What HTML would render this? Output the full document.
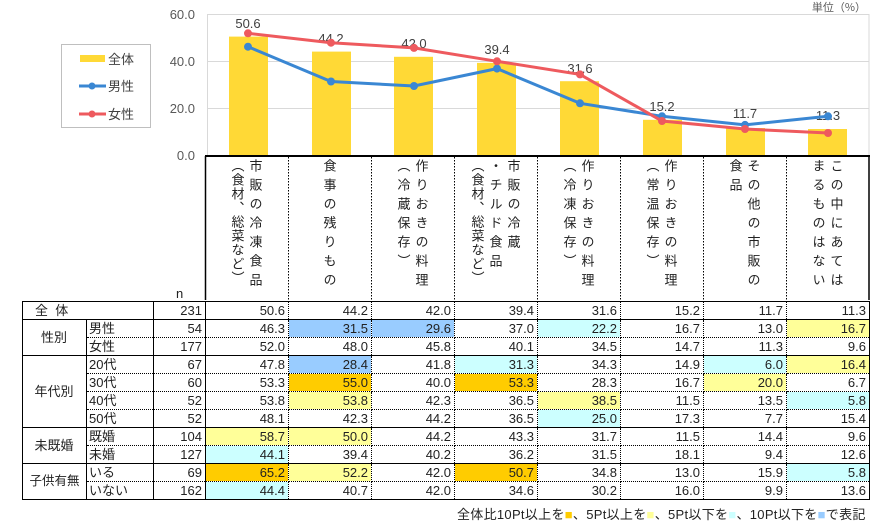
<!DOCTYPE html>
<html><head><meta charset="utf-8"><style>
body{margin:0;width:890px;height:525px;background:#fff;font-family:"Liberation Sans","Noto Sans CJK JP",sans-serif;color:#222;position:relative;overflow:hidden}
.hdr{position:absolute;top:156px;height:145px;width:83px;display:flex;justify-content:center;box-sizing:border-box}
.hdr div{writing-mode:vertical-rl;font-size:13px;line-height:18px;letter-spacing:6px;padding-top:3px;font-family:"Noto Sans CJK JP",sans-serif;white-space:nowrap}
.hdr span{letter-spacing:1px}
table{position:absolute;left:22px;top:301px;border-collapse:collapse;font-size:13px;table-layout:fixed}
td{height:17px;padding:0 3px 0 2px;border:1px dotted #000;text-align:right;line-height:17px;white-space:nowrap;overflow:hidden}
td.g{text-align:center;border:1px solid #000}
td.l{text-align:left;border-left:1px dotted #000;border-right:1px solid #000}
td.n{border-right:1px solid #000}
tr.s td{border-top:1.5px solid #000}
table{border:1.5px solid #000}
.o{background:#FFCC00}.y{background:#FFFF99}.c{background:#CCFFFF}.b{background:#99CCFF}
</style></head><body>
<svg width="890" height="300" style="position:absolute;left:0;top:0" font-family="Liberation Sans, sans-serif">
<g stroke="#d9d9d9" stroke-width="1">
<line x1="207" y1="14.5" x2="869" y2="14.5"/><line x1="207" y1="61.5" x2="869" y2="61.5"/><line x1="207" y1="108.5" x2="869" y2="108.5"/>
<line x1="207.5" y1="14" x2="207.5" y2="156"/><line x1="869" y1="14" x2="869" y2="156"/>
</g>
<g font-size="13" fill="#595959" text-anchor="end">
<text x="195" y="19">60.0</text><text x="195" y="66">40.0</text><text x="195" y="113">20.0</text><text x="195" y="160">0.0</text>
</g>
<text x="866" y="11" font-size="11" fill="#595959" text-anchor="end" font-family="Noto Sans CJK JP, sans-serif">単位（%）</text>
<g fill="#FFD936">
<rect x="229" y="36.6" width="39" height="119"/>
<rect x="312" y="51.6" width="39" height="104"/>
<rect x="394" y="56.8" width="39" height="98.7"/>
<rect x="477" y="62.9" width="39" height="92.6"/>
<rect x="560" y="81.2" width="39" height="74.3"/>
<rect x="643" y="119.8" width="39" height="35.7"/>
<rect x="726" y="128" width="39" height="27.5"/>
<rect x="808" y="129" width="39" height="26.5"/>
</g>
<g font-size="13" fill="#404040" text-anchor="middle">
<text x="248" y="28">50.6</text><text x="331" y="43">44.2</text><text x="414" y="48">42.0</text><text x="497" y="54">39.4</text><text x="580" y="73">31.6</text><text x="662" y="111">15.2</text><text x="745" y="118">11.7</text><text x="828" y="120">11.3</text>
</g>
<polyline fill="none" stroke="#3A87D3" stroke-width="3" points="248,46.7 331,81.5 414,86 497,68.6 580,103.3 662,116.3 745,124.9 828,116.3"/>
<g fill="#3A87D3"><circle cx="248" cy="46.7" r="4"/><circle cx="331" cy="81.5" r="4"/><circle cx="414" cy="86" r="4"/><circle cx="497" cy="68.6" r="4"/><circle cx="580" cy="103.3" r="4"/><circle cx="662" cy="116.3" r="4"/><circle cx="745" cy="124.9" r="4"/><circle cx="828" cy="116.3" r="4"/></g>
<polyline fill="none" stroke="#EE5A5E" stroke-width="3" points="248,33.3 331,42.7 414,47.9 497,61.3 580,74.4 662,121 745,129 828,133"/>
<g fill="#EE5A5E"><circle cx="248" cy="33.3" r="4"/><circle cx="331" cy="42.7" r="4"/><circle cx="414" cy="47.9" r="4"/><circle cx="497" cy="61.3" r="4"/><circle cx="580" cy="74.4" r="4"/><circle cx="662" cy="121" r="4"/><circle cx="745" cy="129" r="4"/><circle cx="828" cy="133" r="4"/></g>
<rect x="61.5" y="44.5" width="89" height="83" fill="#fff" stroke="#bfbfbf"/>
<rect x="80" y="55" width="25" height="7" fill="#FFD936"/>
<line x1="79" y1="86" x2="106" y2="86" stroke="#3A87D3" stroke-width="3"/><circle cx="92" cy="86" r="3.5" fill="#3A87D3"/>
<line x1="79" y1="114" x2="106" y2="114" stroke="#EE5A5E" stroke-width="3"/><circle cx="92" cy="114" r="3.5" fill="#EE5A5E"/>
<g font-size="13" fill="#404040" font-family="Noto Sans CJK JP, sans-serif"><text x="108" y="64">全体</text><text x="108" y="91">男性</text><text x="108" y="119">女性</text></g>
<line x1="205" y1="156" x2="870" y2="156" stroke="#000" stroke-width="2"/>
<line x1="205.5" y1="156" x2="205.5" y2="300" stroke="#000" stroke-width="1.5"/>
<line x1="869" y1="156" x2="869" y2="300" stroke="#000" stroke-width="1.5"/>
<g stroke="#000" stroke-dasharray="1.5,1.5"><line x1="288.5" y1="157" x2="288.5" y2="300"/><line x1="371.5" y1="157" x2="371.5" y2="300"/><line x1="454.5" y1="157" x2="454.5" y2="300"/><line x1="537.5" y1="157" x2="537.5" y2="300"/><line x1="620.5" y1="157" x2="620.5" y2="300"/><line x1="703.5" y1="157" x2="703.5" y2="300"/><line x1="786.5" y1="157" x2="786.5" y2="300"/></g>
<text x="176" y="298" font-size="13" fill="#222">n</text>
</svg>
<div class="hdr" style="left:205px"><div>市販の冷凍食品<br><span>（食材、総菜など）</span></div></div>
<div class="hdr" style="left:288px"><div>食事の残りもの</div></div>
<div class="hdr" style="left:371px"><div>作りおきの料理<br>（冷蔵保存）</div></div>
<div class="hdr" style="left:454px"><div>市販の冷蔵<br>・チルド食品<br><span>（食材、総菜など）</span></div></div>
<div class="hdr" style="left:537px"><div>作りおきの料理<br>（冷凍保存）</div></div>
<div class="hdr" style="left:620px"><div>作りおきの料理<br>（常温保存）</div></div>
<div class="hdr" style="left:703px"><div>その他の市販の<br>食品</div></div>
<div class="hdr" style="left:786px"><div>この中にあては<br>まるものはない</div></div>
<table>
<colgroup><col style="width:64px"><col style="width:67px"><col style="width:52px"><col style="width:83px"><col style="width:83px"><col style="width:83px"><col style="width:83px"><col style="width:83px"><col style="width:83px"><col style="width:83px"><col style="width:83px"></colgroup>
<tr><td class="g" colspan="2" style="text-align:left;padding-left:12px">全&nbsp;&nbsp;体</td><td class="n">231</td><td>50.6</td><td>44.2</td><td>42.0</td><td>39.4</td><td>31.6</td><td>15.2</td><td>11.7</td><td>11.3</td></tr>
<tr class="s"><td class="g" rowspan="2">性別</td><td class="l">男性</td><td class="n">54</td><td>46.3</td><td class="b">31.5</td><td class="b">29.6</td><td>37.0</td><td class="c">22.2</td><td>16.7</td><td>13.0</td><td class="y">16.7</td></tr>
<tr><td class="l">女性</td><td class="n">177</td><td>52.0</td><td>48.0</td><td>45.8</td><td>40.1</td><td>34.5</td><td>14.7</td><td>11.3</td><td>9.6</td></tr>
<tr class="s"><td class="g" rowspan="4">年代別</td><td class="l">20代</td><td class="n">67</td><td>47.8</td><td class="b">28.4</td><td>41.8</td><td class="c">31.3</td><td>34.3</td><td>14.9</td><td class="c">6.0</td><td class="y">16.4</td></tr>
<tr><td class="l">30代</td><td class="n">60</td><td>53.3</td><td class="o">55.0</td><td>40.0</td><td class="o">53.3</td><td>28.3</td><td>16.7</td><td class="y">20.0</td><td>6.7</td></tr>
<tr><td class="l">40代</td><td class="n">52</td><td>53.8</td><td class="y">53.8</td><td>42.3</td><td>36.5</td><td class="y">38.5</td><td>11.5</td><td>13.5</td><td class="c">5.8</td></tr>
<tr><td class="l">50代</td><td class="n">52</td><td>48.1</td><td>42.3</td><td>44.2</td><td>36.5</td><td class="c">25.0</td><td>17.3</td><td>7.7</td><td>15.4</td></tr>
<tr class="s"><td class="g" rowspan="2">未既婚</td><td class="l">既婚</td><td class="n">104</td><td class="y">58.7</td><td class="y">50.0</td><td>44.2</td><td>43.3</td><td>31.7</td><td>11.5</td><td>14.4</td><td>9.6</td></tr>
<tr><td class="l">未婚</td><td class="n">127</td><td class="c">44.1</td><td>39.4</td><td>40.2</td><td>36.2</td><td>31.5</td><td>18.1</td><td>9.4</td><td>12.6</td></tr>
<tr class="s"><td class="g" rowspan="2" style="font-size:12.5px;padding:0">子供有無</td><td class="l">いる</td><td class="n">69</td><td class="o">65.2</td><td class="y">52.2</td><td>42.0</td><td class="o">50.7</td><td>34.8</td><td>13.0</td><td>15.9</td><td class="c">5.8</td></tr>
<tr><td class="l">いない</td><td class="n">162</td><td class="c">44.4</td><td>40.7</td><td>42.0</td><td>34.6</td><td>30.2</td><td>16.0</td><td>9.9</td><td>13.6</td></tr>
</table>
<div style="position:absolute;left:457px;top:504px;font-size:13px;white-space:nowrap;letter-spacing:0.3px">全体比10Pt以上を<span style="color:#FFCC00">■</span>、5Pt以上を<span style="color:#FFFF99">■</span>、5Pt以下を<span style="color:#CCFFFF">■</span>、10Pt以下を<span style="color:#99CCFF">■</span>で表記</div>
</body></html>
